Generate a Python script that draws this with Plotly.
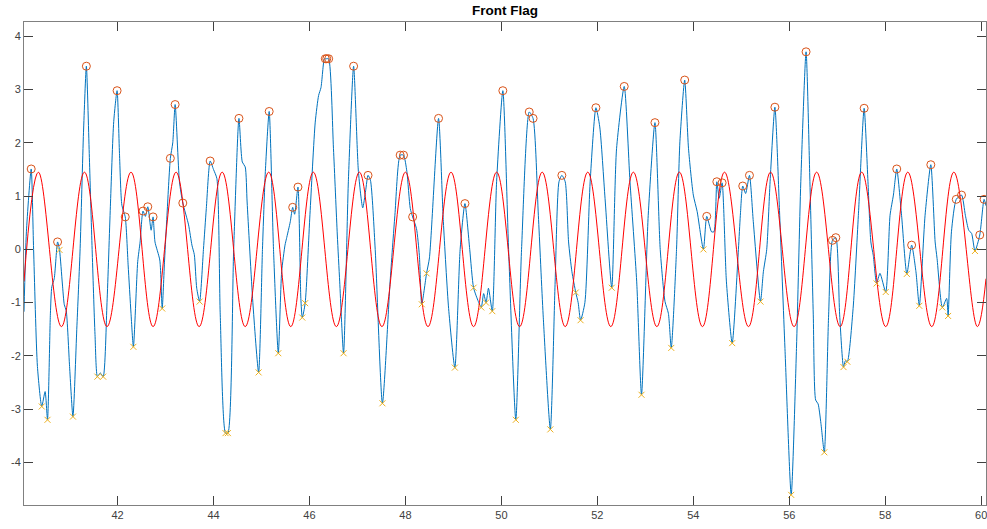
import plotly.graph_objects as go

# ---------------- data ----------------
signal_x = [40.05, 40.10, 40.20, 40.25, 40.33, 40.42, 40.49, 40.54, 40.60, 40.63, 40.68, 40.75, 40.79,
            40.85, 40.89, 40.93, 41.00, 41.07, 41.15, 41.22, 41.29, 41.35, 41.41, 41.47, 41.53, 41.58,
            41.64, 41.70, 41.78, 41.85, 41.92, 41.99, 42.04, 42.09, 42.16, 42.22, 42.28, 42.33, 42.42,
            42.47, 42.53, 42.58, 42.63, 42.70, 42.74, 42.78, 42.88, 42.93, 42.98, 43.03, 43.10, 43.15,
            43.20, 43.29, 43.36, 43.48, 43.55, 43.60, 43.65, 43.71, 43.79, 43.85, 43.93, 44.00, 44.07,
            44.14, 44.25, 44.30, 44.42, 44.53, 44.60, 44.66, 44.70, 44.82, 44.94, 45.02, 45.08, 45.16,
            45.25, 45.35, 45.42, 45.49, 45.52, 45.60, 45.65, 45.69, 45.76, 45.82, 45.85, 45.91, 46.01,
            46.12, 46.19, 46.24, 46.31, 46.33, 46.36, 46.40, 46.50, 46.58, 46.63, 46.71, 46.81, 46.92,
            47.02, 47.11, 47.17, 47.22, 47.27, 47.37, 47.52, 47.68, 47.78, 47.89, 47.96, 48.03, 48.10,
            48.15, 48.23, 48.29, 48.34, 48.44, 48.50, 48.69, 48.79, 48.90, 49.03, 49.14, 49.24, 49.34,
            49.42, 49.52, 49.58, 49.63, 49.68, 49.73, 49.81, 49.90, 50.03, 50.15, 50.30, 50.42, 50.58,
            50.66, 50.77, 50.87, 51.02, 51.12, 51.20, 51.26, 51.33, 51.40, 51.47, 51.55, 51.60, 51.65,
            51.74, 51.85, 51.97, 52.05, 52.16, 52.30, 52.40, 52.56, 52.68, 52.82, 52.92, 53.06, 53.20,
            53.31, 53.41, 53.48, 53.54, 53.65, 53.72, 53.82, 53.90, 54.00, 54.08, 54.21, 54.28, 54.38,
            54.43, 54.49, 54.54, 54.60, 54.69, 54.81, 54.94, 54.98, 55.03, 55.09, 55.17, 55.25, 55.40,
            55.46, 55.53, 55.60, 55.70, 55.80, 55.91, 56.04, 56.15, 56.24, 56.35, 56.43, 56.50, 56.55,
            56.60, 56.66, 56.73, 56.82, 56.90, 56.97, 57.05, 57.13, 57.17, 57.21, 57.33, 57.44, 57.56,
            57.64, 57.70, 57.75, 57.82, 57.89, 58.01, 58.10, 58.17, 58.24, 58.34, 58.45, 58.55, 58.64,
            58.71, 58.83, 58.95, 59.04, 59.08, 59.19, 59.28, 59.31, 59.38, 59.48, 59.59, 59.67, 59.74,
            59.80, 59.87, 59.97, 60.06, 60.10]
signal_y = [-1.17, 0.33, 1.51, 0.00, -2.20, -2.95, -2.67, -3.20, -1.21, -0.70, -0.55, 0.14, -0.01,
            -0.65, -1.04, -1.15, -2.20, -3.14, -1.50, 0.02, 2.20, 3.44, 1.80, 0.00, -1.60, -2.39,
            -2.32, -2.39, -1.00, 0.80, 2.40, 2.98, 1.80, 0.83, 0.61, -0.29, -1.20, -1.83, -0.23,
            0.14, 0.72, 0.62, 0.80, 0.36, 0.61, 0.14, -0.20, -1.11, -0.20, 0.64, 1.71, 2.00,
            2.72, 1.27, 0.87, 0.46, 0.08, -0.10, -0.73, -0.98, 0.00, 0.77, 1.66, 1.50, 1.33,
            -1.23, -3.45, -3.45, 0.00, 2.46, 1.64, 1.55, 0.89, -1.00, -2.31, 0.00, 1.46, 2.59,
            0.00, -1.95, -0.42, 0.08, 0.20, 0.52, 0.79, 0.66, 1.17, -0.92, -1.28, -1.01, 0.66,
            2.39, 2.89, 3.04, 3.58, 3.58, 3.58, 3.58, 1.89, 0.27, -0.61, -1.95, 1.27, 3.44,
            1.46, 0.78, 1.10, 1.39, 1.30, 0.00, -2.89, -0.61, 0.64, 1.77, 1.77, 1.46, 0.77,
            0.61, 0.39, -0.11, -1.03, -0.45, -0.16, 2.46, 0.52, -1.11, -2.22, 0.00, 0.86, 0.00,
            -0.72, -0.98, -1.09, -0.83, -1.00, -0.73, -1.16, 1.27, 2.98, 0.00, -3.20, 0.00, 2.58,
            2.46, 0.64, -1.23, -3.38, -0.61, 1.27, 1.39, 1.27, 0.14, -0.42, -0.81, -1.00, -1.33,
            -1.00, 1.27, 2.66, 2.30, 0.96, -0.72, 1.89, 3.06, 1.27, -0.61, -2.73, 0.64, 2.38,
            0.00, -0.98, -1.20, -1.85, 0.00, 2.02, 3.18, 1.89, 1.02, 0.71, 0.00, 0.62, 0.33,
            0.33, 1.27, 0.96, 1.25, -0.61, -1.76, 0.00, 0.64, 1.19, 1.05, 1.39, 0.52, -0.98,
            -0.42, 0.00, 1.27, 2.67, 0.64, -1.86, -4.61, -1.86, 1.27, 3.71, 1.27, -1.23, -2.83,
            -2.90, -3.27, -3.81, -1.23, 0.17, 0.22, -1.23, -2.21, -2.09, -2.11, -1.11, 0.64, 2.65,
            1.27, 0.14, -0.11, -0.64, -0.45, -0.80, 0.64, 1.02, 1.51, 0.64, -0.46, 0.08, -0.42,
            -1.06, 0.64, 1.59, 0.14, -0.17, -1.09, -0.92, -1.25, 0.33, 0.94, 1.02, 0.64, 0.36,
            0.30, -0.03, 0.27, 0.94, 0.82]

peak_x = [40.20, 40.75, 41.35, 41.99, 42.16, 42.53, 42.63, 42.74, 43.10, 43.20, 43.36, 43.93, 44.53,
          45.16, 45.65, 45.76, 46.33, 46.36, 46.40, 46.92, 47.22, 47.89, 47.96, 48.15, 48.69, 49.24,
          50.03, 50.58, 50.66, 51.26, 51.97, 52.56, 53.20, 53.82, 54.28, 54.49, 54.60, 55.03, 55.17,
          55.70, 56.35, 56.90, 56.97, 57.56, 58.24, 58.55, 58.95, 59.48, 59.59, 59.97, 60.06]
peak_y = [1.51, 0.14, 3.44, 2.98, 0.61, 0.72, 0.80, 0.61, 1.71, 2.72, 0.87, 1.66, 2.46,
          2.59, 0.79, 1.17, 3.58, 3.58, 3.58, 3.44, 1.39, 1.77, 1.77, 0.61, 2.46, 0.86,
          2.98, 2.58, 2.46, 1.39, 2.66, 3.06, 2.38, 3.18, 0.62, 1.27, 1.25, 1.19, 1.39,
          2.67, 3.71, 0.17, 0.22, 2.65, 1.51, 0.08, 1.59, 0.94, 1.02, 0.27, 0.94]

trough_x = [40.42, 40.54, 40.79, 41.07, 41.58, 41.70, 42.33, 42.93, 43.71, 44.25, 44.30, 44.94, 45.35,
            45.85, 45.91, 46.71, 47.52, 48.34, 48.44, 49.03, 49.42, 49.58, 49.68, 49.81, 50.30, 51.02,
            51.55, 51.65, 52.30, 52.92, 53.54, 54.21, 54.81, 55.40, 56.04, 56.73, 57.13, 57.21, 57.82,
            58.01, 58.45, 58.71, 59.19, 59.31, 59.87]
trough_y = [-2.95, -3.20, -0.01, -3.14, -2.39, -2.39, -1.83, -1.11, -0.98, -3.45, -3.45, -2.31, -1.95,
            -1.28, -1.01, -1.95, -2.89, -1.03, -0.45, -2.22, -0.72, -1.09, -1.00, -1.16, -3.20, -3.38,
            -0.81, -1.33, -0.72, -2.73, -1.85, 0.00, -1.76, -0.98, -4.61, -3.81, -2.21, -2.11, -0.64,
            -0.80, -0.46, -1.06, -1.09, -1.25, -0.03]

ref_x = [40.05, 40.35, 40.83, 41.31, 41.78, 42.28, 42.74, 43.22, 43.70, 44.18, 44.66, 45.15, 45.61,
         46.08, 46.56, 47.04, 47.51, 48.00, 48.47, 48.95, 49.42, 49.90, 50.38, 50.85, 51.33, 51.80,
         52.28, 52.75, 53.24, 53.71, 54.19, 54.65, 55.15, 55.61, 56.10, 56.57, 57.06, 57.51, 58.01,
         58.47, 58.97, 59.43, 59.92, 60.10]
ref_y = [-0.60, 1.45, -1.45, 1.45, -1.45, 1.45, -1.45, 1.45, -1.45, 1.45, -1.45, 1.45, -1.45,
         1.45, -1.45, 1.45, -1.45, 1.45, -1.45, 1.45, -1.45, 1.45, -1.45, 1.45, -1.45, 1.45,
         -1.45, 1.45, -1.45, 1.45, -1.45, 1.45, -1.45, 1.45, -1.45, 1.45, -1.45, 1.45, -1.45,
         1.45, -1.45, 1.45, -1.45, -0.55]

x_ticks = [42, 44, 46, 48, 50, 52, 54, 56, 58, 60]
y_ticks = [-4, -3, -2, -1, 0, 1, 2, 3, 4]
title_text = "Front Flag"

# ---------------- figure ----------------
fig = go.Figure()
fig.add_trace(go.Scatter(x=signal_x, y=signal_y, mode="lines",
                         line=dict(color="#0072BD", width=1, shape="spline", smoothing=0.6),
                         hoverinfo="skip", showlegend=False))
fig.add_trace(go.Scatter(x=ref_x, y=ref_y, mode="lines",
                         line=dict(color="#FF0000", width=1, shape="spline", smoothing=1.1),
                         hoverinfo="skip", showlegend=False))
fig.add_trace(go.Scatter(x=peak_x, y=peak_y, mode="markers",
                         marker=dict(symbol="circle-open", size=8, color="#D95319",
                                     line=dict(width=1, color="#D95319")),
                         showlegend=False))
fig.add_trace(go.Scatter(x=trough_x, y=trough_y, mode="markers",
                         marker=dict(symbol="x-thin", size=6, color="#EDB120",
                                     line=dict(width=1, color="#EDB120")),
                         showlegend=False))

axis_common = dict(showgrid=False, zeroline=False, showline=True, linecolor="#808080",
                   linewidth=1, mirror="ticks", ticks="inside", ticklen=9, tickwidth=1,
                   tickcolor="#404040", ticklabeloverflow="allow",
                   tickfont=dict(family="Liberation Sans, Arial, sans-serif", size=11, color="#404040"))

fig.update_xaxes(range=[40.05, 60.1], tickvals=x_ticks, ticktext=[str(v) for v in x_ticks],
                 **axis_common)
fig.update_yaxes(range=[-4.8, 4.27], tickvals=y_ticks, ticktext=[str(v) for v in y_ticks],
                 **axis_common)

fig.update_layout(
    width=987, height=529,
    margin=dict(l=24, r=1, t=22, b=24),
    paper_bgcolor="white", plot_bgcolor="white",
    title=dict(text="<b>" + title_text + "</b>", x=0.5, xref="paper", xanchor="center",
               y=1 - 10 / 529, yref="container", yanchor="middle",
               font=dict(family="Liberation Sans, Arial, sans-serif", size=13.5, color="#000000")),
)

fig.write_html("out.html")
